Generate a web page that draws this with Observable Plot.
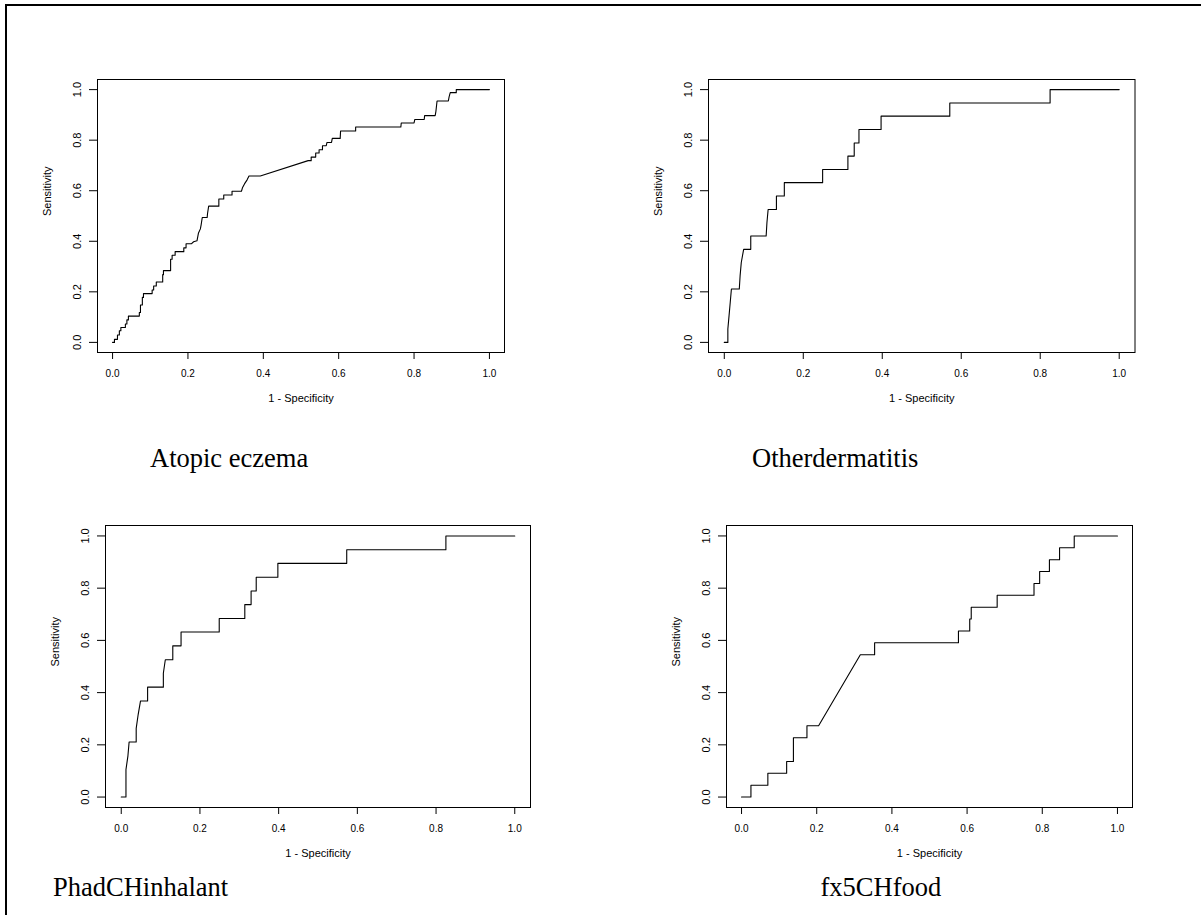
<!DOCTYPE html>
<html><head><meta charset="utf-8">
<script src="https://cdn.jsdelivr.net/npm/d3@7"></script>
<script src="https://cdn.jsdelivr.net/npm/@observablehq/plot@0.6"></script>
<style>
html,body{margin:0;padding:0;background:#fff;overflow:hidden;}
#page{position:relative;width:1201px;height:915px;overflow:hidden;background:#fff;}
#frame{position:absolute;left:5px;top:4px;width:1250px;height:960px;border-top:2px solid #000;border-left:2px solid #000;}
.panel{position:absolute;}
.cap{position:absolute;font-family:"Liberation Serif","Times New Roman",serif;font-size:26.5px;line-height:26.5px;white-space:nowrap;color:#000;}
</style></head>
<body><div id="page"><div id="frame"></div></div>
<script>
// ---- data ----
const xTicks = [0, 0.2, 0.4, 0.6, 0.8, 1.0];
const yTicks = [0, 0.2, 0.4, 0.6, 0.8, 1.0];
const xTitle = "1 - Specificity";
const yTitle = "Sensitivity";
const captions = ["Atopic eczema", "Otherdermatitis", "PhadCHinhalant", "fx5CHfood"];

// Atopic eczema
const fprAtopic = [0,0.005,0.005,0.013,0.013,0.018,0.018,0.022,0.022,0.034,0.034,0.038,0.038,0.042,0.042,0.071,0.071,0.074,0.074,0.079,0.079,0.082,0.082,0.105,0.105,0.109,0.109,0.116,0.116,0.133,0.133,0.135,0.135,0.154,0.154,0.158,0.158,0.166,0.166,0.189,0.189,0.195,0.195,0.209,0.215,0.224,0.228,0.233,0.235,0.238,0.251,0.252,0.255,0.282,0.282,0.295,0.295,0.317,0.317,0.342,0.345,0.350,0.357,0.362,0.392,0.519,0.527,0.527,0.539,0.539,0.548,0.548,0.557,0.557,0.567,0.569,0.581,0.583,0.604,0.605,0.645,0.645,0.765,0.766,0.800,0.802,0.827,0.828,0.856,0.858,0.861,0.891,0.893,0.896,0.912,0.912,1.0];
const tprAtopic = [0,0,0.012,0.012,0.029,0.029,0.046,0.046,0.059,0.059,0.073,0.073,0.089,0.089,0.104,0.104,0.118,0.118,0.148,0.148,0.178,0.178,0.193,0.193,0.207,0.207,0.223,0.223,0.239,0.239,0.268,0.268,0.284,0.284,0.329,0.329,0.345,0.345,0.359,0.359,0.374,0.374,0.390,0.390,0.398,0.402,0.433,0.449,0.465,0.494,0.494,0.510,0.539,0.539,0.567,0.567,0.583,0.583,0.598,0.598,0.613,0.627,0.643,0.658,0.658,0.719,0.719,0.733,0.733,0.749,0.749,0.762,0.762,0.778,0.778,0.791,0.791,0.807,0.807,0.836,0.836,0.852,0.852,0.868,0.868,0.882,0.882,0.897,0.897,0.914,0.955,0.955,0.971,0.988,0.988,1.0,1.0];

// Otherdermatitis
const fprOther = [0,0.009,0.009,0.012,0.015,0.018,0.038,0.040,0.043,0.049,0.067,0.067,0.106,0.108,0.111,0.132,0.132,0.152,0.152,0.249,0.249,0.313,0.313,0.329,0.329,0.341,0.341,0.397,0.397,0.571,0.571,0.825,0.825,1.0];
const tprOther = [0,0,0.053,0.105,0.158,0.211,0.211,0.263,0.316,0.368,0.368,0.421,0.421,0.474,0.526,0.526,0.579,0.579,0.632,0.632,0.684,0.684,0.737,0.737,0.789,0.789,0.842,0.842,0.895,0.895,0.947,0.947,1.0,1.0];

// PhadCHinhalant
const fprPhad = [0,0.012,0.012,0.017,0.020,0.038,0.038,0.043,0.049,0.067,0.067,0.107,0.107,0.112,0.131,0.131,0.152,0.152,0.249,0.249,0.314,0.314,0.330,0.330,0.343,0.343,0.398,0.398,0.573,0.573,0.825,0.825,1.0];
const tprPhad = [0,0,0.105,0.158,0.211,0.211,0.263,0.316,0.368,0.368,0.421,0.421,0.474,0.526,0.526,0.579,0.579,0.632,0.632,0.684,0.684,0.737,0.737,0.789,0.789,0.842,0.842,0.895,0.895,0.947,0.947,1.0,1.0];

// fx5CHfood
const fprFood = [0,0.025,0.025,0.070,0.070,0.120,0.120,0.138,0.138,0.174,0.174,0.205,0.316,0.354,0.354,0.577,0.577,0.607,0.607,0.611,0.611,0.680,0.680,0.778,0.778,0.793,0.793,0.819,0.819,0.846,0.846,0.885,0.885,1.0];
const tprFood = [0,0,0.045,0.045,0.091,0.091,0.136,0.136,0.227,0.227,0.273,0.273,0.545,0.545,0.591,0.591,0.636,0.636,0.682,0.682,0.727,0.727,0.773,0.773,0.818,0.818,0.864,0.864,0.909,0.909,0.955,0.955,1.0,1.0];

// ---- layout ----
const boxes = [
  {left: 97, right: 504, top: 79, bottom: 352},
  {left: 707.5, right: 1134, top: 79, bottom: 352},
  {left: 105, right: 530, top: 525, bottom: 807},
  {left: 725.5, right: 1131.5, top: 525, bottom: 807}
];
const capPos = [
  {left: 150, baseline: 467.5},
  {left: 752, baseline: 467.5},
  {left: 53, baseline: 896.5},
  {left: 820.5, baseline: 896.5}
];
const series = [[fprAtopic, tprAtopic],[fprOther, tprOther],[fprPhad, tprPhad],[fprFood, tprFood]];

const page = document.getElementById("page");
const fmt = d => d.toFixed(1);

series.forEach(([fpr, tpr], i) => {
  const box = boxes[i];
  const mL = 70, mR = 14, mT = 14, mB = 62;
  const w = box.right - box.left, h = box.bottom - box.top;
  const pts = fpr.map((x, j) => ({x, y: tpr[j]}));
  const chart = Plot.plot({
    width: w + mL + mR,
    height: h + mT + mB,
    marginLeft: mL, marginRight: mR, marginTop: mT, marginBottom: mB,
    x: {domain: [-0.04, 1.04], axis: null},
    y: {domain: [-0.04, 1.04], axis: null},
    style: {fontFamily: "'Liberation Sans', Arial, Helvetica, sans-serif", background: "transparent", color: "#000", overflow: "visible"},
    marks: [
      Plot.frame({stroke: "#000", strokeWidth: 1}),
      Plot.axisX({ticks: xTicks, tickSize: 7, tickFormat: () => "", label: null, stroke: "#000"}),
      Plot.axisY({ticks: yTicks, tickSize: 8, tickFormat: () => "", label: null, stroke: "#000"}),
      Plot.text(xTicks, {x: d => d, frameAnchor: "bottom", dy: 21, text: fmt, lineAnchor: "middle", fontSize: 10, fill: "#000", ariaLabel: "xticklab"}),
      Plot.text(yTicks, {y: d => d, frameAnchor: "left", dx: -20, rotate: -90, text: fmt, lineAnchor: "middle", textAnchor: "middle", fontSize: 11, fill: "#000", ariaLabel: "yticklab"}),
      Plot.text([xTitle], {frameAnchor: "bottom", dy: 46, lineAnchor: "middle", fontSize: 11, fill: "#000", ariaLabel: "xtitle"}),
      Plot.text([yTitle], {frameAnchor: "left", dx: -50, rotate: -90, lineAnchor: "middle", fontSize: 11, fill: "#000", ariaLabel: "ytitle"}),
      Plot.line(pts, {x: "x", y: "y", stroke: "#000", strokeWidth: 1.1, curve: "linear"})
    ]
  });
  chart.classList.add("panel");
  chart.style.left = (box.left - mL) + "px";
  chart.style.top = (box.top - mT) + "px";
  page.appendChild(chart);
  chart.querySelectorAll('g[aria-label="xticklab"] text').forEach(t => { t.setAttribute("textLength", 19.5); t.setAttribute("lengthAdjust", "spacingAndGlyphs"); });
  chart.querySelectorAll('g[aria-label="xtitle"] text').forEach(t => { t.setAttribute("textLength", 83); t.setAttribute("lengthAdjust", "spacingAndGlyphs"); });
  chart.querySelectorAll('g[aria-label="ytitle"] text').forEach(t => { t.setAttribute("textLength", 55); t.setAttribute("lengthAdjust", "spacingAndGlyphs"); });

  const c = document.createElement("div");
  c.className = "cap";
  c.textContent = captions[i];
  c.style.left = capPos[i].left + "px";
  c.style.top = (capPos[i].baseline - 22.2) + "px";
  page.appendChild(c);
});
</script>
</body></html>
